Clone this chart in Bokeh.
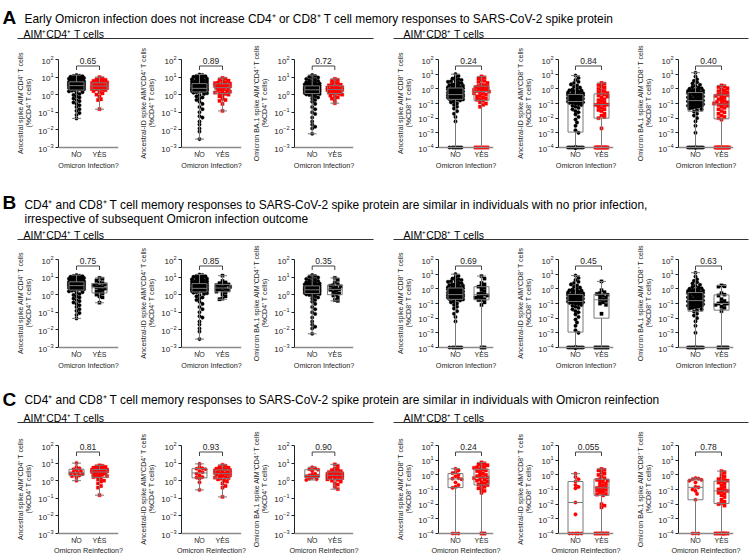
import numpy as np
from bokeh.plotting import figure
from bokeh.models import Range1d, FixedTicker, Span
from bokeh.layouts import column, row
from bokeh.core.properties import value
from bokeh.embed import file_html
from bokeh.resources import INLINE

FONT = "Liberation Sans"
P = "\u207a"  # superscript plus

# ------------------------------------------------------------------ data
# "NO" group of rows A and B (the same donors appear in both rows)
a_cd4_anc_no = [0.045, 0.07, 0.09, 0.12, 0.15, 0.2, 0.25, 0.3, 0.36, 0.43, 0.5, 0.6, 0.7, 0.8, 0.95, 1.1, 1.25, 1.4, 1.55, 1.7, 1.8,
                1.9, 1.97, 2.03, 2.1, 2.15, 2.2, 2.3, 2.35, 2.4, 2.5, 2.55, 2.6, 2.7, 2.75, 2.8, 2.9, 2.95, 3.0, 3.1, 3.2, 3.25,
                3.3, 3.4, 3.5, 3.55, 3.6, 3.7, 3.8, 3.9, 4.0, 4.1, 4.2, 4.3, 4.4, 4.5, 4.6, 4.7, 4.8, 4.9, 5.0, 5.1, 5.3,
                5.4, 5.6, 5.8, 6.0, 6.2, 6.4, 6.7, 7.0, 7.3, 7.6, 8.0, 8.4, 8.8, 9.2, 9.6, 10.0, 10.5, 11.0, 11.5, 12.0, 13.0]
a_cd4_id_no = [0.003, 0.008, 0.012, 0.02, 0.03, 0.05, 0.06, 0.1, 0.15, 0.2, 0.3, 0.4, 0.5, 0.6, 0.7, 0.8, 0.95, 1.1, 1.2, 1.3, 1.4,
               1.5, 1.53, 1.56, 1.6, 1.64, 1.68, 1.72, 1.76, 1.8, 1.85, 1.9, 1.94, 1.98, 2.02, 2.06, 2.1, 2.14, 2.18, 2.22, 2.26, 2.29,
               2.3, 2.4, 2.5, 2.6, 2.7, 2.8, 2.9, 3.0, 3.1, 3.2, 3.3, 3.4, 3.5, 3.6, 3.7, 3.8, 3.9, 4.0, 4.05, 4.1, 4.2,
               4.3, 4.5, 4.7, 4.9, 5.1, 5.4, 5.7, 6.0, 6.3, 6.7, 7.1, 7.5, 8.0, 8.5, 9.0, 9.6, 10.3, 11.0, 12.0, 13.0, 14.0]
a_cd4_ba1_no = [0.006, 0.012, 0.015, 0.02, 0.03, 0.05, 0.08, 0.1, 0.15, 0.2, 0.3, 0.4, 0.5, 0.6, 0.7, 0.8, 0.9, 0.97, 1.05, 1.1, 1.15,
                1.2, 1.23, 1.26, 1.29, 1.32, 1.35, 1.38, 1.42, 1.46, 1.5, 1.54, 1.58, 1.62, 1.66, 1.7, 1.74, 1.77, 1.8, 1.83, 1.86, 1.88,
                1.9, 1.95, 2.0, 2.05, 2.1, 2.15, 2.2, 2.26, 2.32, 2.38, 2.44, 2.5, 2.56, 2.62, 2.68, 2.74, 2.8, 2.87, 2.94, 3.0, 3.1,
                3.2, 3.3, 3.45, 3.6, 3.75, 3.9, 4.1, 4.3, 4.5, 4.8, 5.1, 5.5, 6.0, 6.5, 7.0, 7.8, 8.6, 9.5, 10.5, 11.5, 13.0]
a_cd8_anc_no = [0, 0, 0, 0, 0, 0, 0, 0,
                0.006, 0.012, 0.02, 0.03, 0.045, 0.06, 0.08, 0.1, 0.12, 0.14, 0.16, 0.18, 0.19,
                0.2, 0.21, 0.22, 0.22, 0.24, 0.25, 0.26, 0.27, 0.28, 0.3, 0.3, 0.31, 0.32, 0.33, 0.35, 0.35, 0.36, 0.37, 0.38, 0.39, 0.4, 0.41,
                0.43, 0.45, 0.47, 0.5, 0.52, 0.55, 0.58, 0.6, 0.63, 0.66, 0.7, 0.73, 0.76, 0.8, 0.85, 0.9, 0.95, 1.0, 1.05, 1.1, 1.15,
                1.25, 1.3, 1.4, 1.5, 1.6, 1.7, 1.8, 2.0, 2.2, 2.4, 2.7, 3.0, 3.3, 3.6, 4.0, 4.5, 5.0, 6.0, 7.5, 10.0]
a_cd8_id_no = [0, 0, 0, 0, 0, 0, 0, 0, 0, 0, 0, 0, 0, 0, 0, 0, 0, 0, 0, 0, 0.001,
               0.0015, 0.003, 0.005, 0.008, 0.012, 0.018, 0.025, 0.03, 0.04, 0.05, 0.06, 0.07, 0.08, 0.09, 0.1, 0.11, 0.115, 0.12, 0.125, 0.13, 0.135,
               0.14, 0.15, 0.16, 0.17, 0.18, 0.19, 0.2, 0.21, 0.22, 0.23, 0.24, 0.25, 0.26, 0.27, 0.28, 0.3, 0.32, 0.34, 0.36, 0.38, 0.4,
               0.42, 0.45, 0.48, 0.5, 0.55, 0.6, 0.65, 0.7, 0.75, 0.8, 0.9, 1.0, 1.2, 1.4, 1.7, 2.0, 2.5, 3.0, 4.0, 5.5, 8.0]
a_cd8_ba1_no = [0, 0, 0, 0, 0, 0, 0, 0, 0, 0, 0, 0, 0, 0, 0.001, 0.003, 0.006, 0.01, 0.015, 0.02, 0.028,
                0.035, 0.04, 0.045, 0.05, 0.055, 0.06, 0.065, 0.07, 0.075, 0.08, 0.085, 0.09, 0.095, 0.1, 0.11, 0.12, 0.125, 0.13, 0.14, 0.15, 0.155,
                0.16, 0.17, 0.18, 0.19, 0.2, 0.21, 0.22, 0.24, 0.26, 0.28, 0.3, 0.32, 0.34, 0.36, 0.38, 0.4, 0.42, 0.45, 0.48, 0.51, 0.54,
                0.57, 0.6, 0.63, 0.66, 0.7, 0.75, 0.8, 0.85, 0.9, 1.0, 1.1, 1.2, 1.4, 1.6, 1.9, 2.3, 2.8, 3.5, 4.5, 7.0, 12.6]

# Row A : early Omicron infection ("YES")
a_cd4_anc_yes = [10, 8.5, 7.5, 7, 6.5, 6, 5.5, 5.2, 5, 4.8, 4.6, 4.5, 4.3, 4.1, 4, 3.8, 3.6, 3.5, 3.3, 3.2,
                 3, 2.9, 2.8, 2.7, 2.6, 2.5, 2.4, 2.2, 2.1, 2, 1.9, 1.8, 1.6, 1.4, 1.2, 1.0, 0.8, 0.55, 0.5, 0.15]
a_cd4_id_yes = [9, 8, 7, 6.2, 5.5, 5, 4.8, 4.5, 4.3, 4, 3.8, 3.6, 3.4, 3.2, 3, 2.9, 2.8, 2.7, 2.5, 2.3,
                2.1, 2, 1.8, 1.6, 1.5, 1.4, 1.3, 1.2, 1.1, 1, 0.9, 0.8, 0.6, 0.5, 0.45, 0.3, 0.12]
a_cd4_ba1_yes = [8, 7, 6, 5, 4.5, 4, 3.7, 3.4, 3.2, 3, 2.8, 2.6, 2.5, 2.3, 2.2, 2.1, 2, 1.9, 1.8, 1.7,
                 1.6, 1.5, 1.4, 1.3, 1.25, 1.2, 1.1, 1, 0.9, 0.8, 0.7, 0.6, 0.5, 0.33]
a_cd8_anc_yes = [7, 6, 5, 4, 3.5, 3, 2.5, 2, 1.8, 1.6, 1.45, 1.3, 1.2, 1.1, 1, 0.9, 0.85, 0.8, 0.75, 0.7,
                 0.65, 0.6, 0.5, 0.45, 0.4, 0.35, 0.3, 0.25, 0.22, 0.2, 0.18, 0.15, 0.12, 0.1, 0.08, 0.06,
                 0, 0, 0, 0, 0]
a_cd8_id_yes = [2.5, 2.2, 1.8, 1.5, 1.2, 1.0, 0.8, 0.7, 0.6, 0.5, 0.45, 0.4, 0.35, 0.3, 0.25, 0.2, 0.17, 0.15,
                0.12, 0.1, 0.09, 0.085, 0.08, 0.07, 0.06, 0.05, 0.04, 0.035, 0.03, 0.02, 0.015, 0.012, 0.01, 0.002,
                0, 0, 0, 0, 0, 0, 0, 0, 0]
a_cd8_ba1_yes = [1.7, 1.5, 1.3, 1.1, 0.9, 0.8, 0.7, 0.6, 0.5, 0.45, 0.4, 0.37, 0.33, 0.3, 0.25, 0.2, 0.18, 0.15,
                 0.13, 0.12, 0.11, 0.1, 0.09, 0.08, 0.07, 0.06, 0.05, 0.04, 0.03, 0.025, 0.02, 0.015, 0.012, 0.01, 0.008,
                 0, 0, 0, 0, 0, 0, 0, 0, 0, 0]

# Row B : no prior infection, later infected ("YES")
b_cd4_anc_yes = [9, 8, 6.5, 5, 4.5, 4, 3.8, 3.5, 3, 2.8, 2.5, 2.2, 2, 1.8, 1.5, 1.3, 1.2, 1, 0.8, 0.7, 0.35]
b_cd4_id_yes = [12, 6, 5, 4.5, 4, 3.8, 3.5, 3.2, 3, 2.8, 2.5, 2.3, 2.1, 2, 1.8, 1.6, 1.5, 1.3, 1, 0.8, 0.6, 0.55]
b_cd4_ba1_yes = [9, 7, 5, 4, 3.5, 3.2, 3, 2.5, 2.2, 2, 1.9, 1.6, 1.4, 1.2, 1, 0.9, 0.7, 0.5, 0.45]
b_cd8_anc_yes = [7.4, 5, 2.5, 2, 1.5, 1.4, 1.2, 0.9, 0.7, 0.5, 0.45, 0.4, 0.35, 0.3, 0.28, 0.25, 0.2, 0.18,
                 0.17, 0.12, 0.08, 0, 0]
b_cd8_id_yes = [3.2, 0.8, 0.6, 0.5, 0.45, 0.4, 0.35, 0.3, 0.25, 0.2, 0.18, 0.15, 0.12, 0.1, 0.08, 0.02,
                0, 0, 0, 0, 0]
b_cd8_ba1_yes = [1.7, 1.5, 1.4, 0.5, 0.4, 0.35, 0.2, 0.15, 0.12, 0.1, 0.1, 0.09, 0.08, 0.06, 0.05, 0.03,
                 0, 0, 0, 0]

# Row C : Omicron reinfection
c_cd4_anc_no = [10, 6, 5, 4.5, 4, 3.5, 3, 2.8, 2.6, 2.4, 2.2, 2, 1.8, 1.5, 1]
c_cd4_anc_yes = [7.5, 7, 6.5, 6, 5.5, 5, 4.8, 4.5, 4.3, 4.2, 4, 3.8, 3.7, 3.5, 3.4, 3.3, 3.2, 3.0, 2.8, 2.6,
                 2.4, 2.2, 2.0, 1.9, 1.8, 1.6, 1.4, 1.2, 1.0, 0.9, 0.7, 0.5, 0.4, 0.15]
c_cd4_id_no = [9, 6, 5, 4.8, 4.5, 3.5, 3, 2.5, 2, 1.6, 1.5, 1.3, 0.8, 0.3]
c_cd4_id_yes = [8, 7, 6, 5.5, 5, 4.8, 4.5, 4.2, 4, 3.8, 3.5, 3.2, 3, 2.9, 2.8, 2.6, 2.5, 2.4, 2.2, 2,
                1.9, 1.8, 1.6, 1.5, 1.4, 1.3, 1.2, 1, 0.9, 0.7, 0.5, 0.4, 0.12]
c_cd4_ba1_no = [5.8, 5, 4.5, 4.2, 3.5, 2.5, 2.2, 2, 1.9, 1.8, 1.7, 1.5, 1.3, 1.2, 1.1]
c_cd4_ba1_yes = [8.5, 7, 5, 4.5, 4, 3.5, 3.3, 3.1, 3, 2.8, 2.6, 2.4, 2.3, 2.2, 2.1, 2, 1.9, 1.8, 1.7, 1.6,
                 1.5, 1.4, 1.3, 1.2, 1.1, 1, 0.9, 0.7, 0.6, 0.45, 0.33]
c_cd8_anc_no = [2.6, 2, 1.5, 1.3, 1, 0.8, 0.6, 0.55, 0.5, 0.3, 0.2, 0.15, 0.13, 0, 0, 0]
c_cd8_anc_yes = [7, 6, 5, 4.5, 4, 3.5, 3.2, 3, 2.5, 2.2, 2, 1.8, 1.5, 1.2, 1, 0.9, 0.8, 0.7, 0.65, 0.6,
                 0.5, 0.45, 0.4, 0.35, 0.3, 0.25, 0.22, 0.2, 0.18, 0.15, 0.12, 0.1, 0.08, 0.06, 0, 0]
c_cd8_id_no = [1.2, 0.7, 0.5, 0.35, 0.2, 0.15, 0.12, 0.013, 0.002, 0, 0, 0, 0, 0, 0]
c_cd8_id_yes = [2.5, 2.2, 2, 1.5, 1.2, 1, 0.8, 0.6, 0.5, 0.45, 0.4, 0.35, 0.3, 0.25, 0.2, 0.18, 0.15, 0.13,
                0.12, 0.1, 0.09, 0.08, 0.07, 0.06, 0.05, 0.045, 0.04, 0.01, 0.008, 0.006, 0, 0, 0, 0, 0]
c_cd8_ba1_no = [0.6, 0.55, 0.5, 0.45, 0.4, 0.3, 0.15, 0.14, 0.1, 0.08, 0.05, 0.02, 0, 0, 0]
c_cd8_ba1_yes = [1.8, 1.5, 1, 0.8, 0.6, 0.5, 0.45, 0.4, 0.35, 0.3, 0.25, 0.2, 0.15, 0.12, 0.1, 0.09, 0.08,
                 0.07, 0.06, 0.05, 0.04, 0.03, 0.02, 0.015, 0.012, 0.01, 0.008, 0, 0, 0, 0, 0, 0]

p_values_a = ["0.65", "0.89", "0.72", "0.24", "0.84", "0.40"]
p_values_b = ["0.75", "0.85", "0.35", "0.69", "0.45", "0.63"]
p_values_c = ["0.81", "0.93", "0.90", "0.24", "0.055", "0.78"]

y_titles = ["Ancestral spike AIM" + P + "CD4" + P + " T cells",
            "Ancestral-ID spike AIM" + P + "CD4" + P + " T cells",
            "Omicron BA.1 spike AIM" + P + "CD4" + P + " T cells",
            "Ancestral spike AIM" + P + "CD8" + P + " T cells",
            "Ancestral-ID spike AIM" + P + "CD8" + P + " T cells",
            "Omicron BA.1 spike AIM" + P + "CD8" + P + " T cells"]
y_units = ["(%CD4" + P + " T cells)"] * 3 + ["(%CD8" + P + " T cells)"] * 3
decades = [5, 5, 5, 6, 6, 6]
group_labels = ["NO", "YES"]

RED = "#ff0000"
BLACK = "#000000"
BOXC = "#7a7a7a"
AXC = "#222222"


def swarm_offsets(ypx, step=1.5, dmin=3.0, maxw=8.5):
    """Deterministic beeswarm: horizontal pixel offsets for points at pixel heights ypx."""
    ypx = np.asarray(ypx, float)
    out = np.zeros(len(ypx))
    cands = [0.0]
    k = 1
    while k * step <= maxw:
        cands += [k * step, -k * step]
        k += 1
    order = np.argsort(-ypx, kind="stable")
    px, py = [], []
    for i in order:
        y = ypx[i]
        best, bestd = 0.0, -1.0
        if px:
            ax = np.array(px)
            ay = np.array(py)
            for c in cands:
                d = np.min(np.hypot(ax - c, ay - y))
                if d >= dmin:
                    best = c
                    break
                if d > bestd:
                    bestd, best = d, c
        out[i] = best
        px.append(best)
        py.append(y)
    return out


# per column: (figure width, frame left offset, frame width)
COLS = [(126, 58, 60), (123, 55, 60), (126, 44, 60), (126, 63, 55), (120, 57, 55), (129, 57, 55)]
PT, PB = 4, 3      # px of room above 10^2 and below the floor decade
SPAN = 88          # px from the floor decade to 10^2


def panel(ci, no, yes, pval, xlabel, c_no, c_yes, H, mbt, lab_standoff):
    W, mbl, fw = COLS[ci]
    ndec = decades[ci]
    ppd = SPAN / ndec
    bot = 2 - ndec
    floor = 10.0 ** bot
    fh = SPAN + PT + PB
    mbr = W - mbl - fw
    mbb = H - mbt - fh
    no_px, yes_px = (17.0, 43.0) if ndec == 6 else (18.0, 41.0)
    upx = yes_px - no_px
    p = figure(width=W, height=H, title=None,
               x_range=Range1d(-no_px / upx, (fw - no_px) / upx),
               y_range=Range1d(10 ** (bot - PB / ppd), 10 ** (2 + PT / ppd)),
               y_axis_type="log", output_backend="svg", toolbar_location=None,
               min_border_left=mbl, min_border_right=mbr, min_border_top=mbt, min_border_bottom=mbb)
    p.outline_line_color = None
    p.xgrid.visible = False
    p.ygrid.visible = False

    yax = p.yaxis[0]
    yax.ticker = FixedTicker(ticks=[10.0 ** k for k in range(bot, 3)], minor_ticks=[])
    yax.bounds = (floor, 100.0)
    yax.axis_line_color = AXC
    yax.major_tick_line_color = AXC
    yax.major_tick_out = 3
    yax.major_tick_in = 0
    yax.major_label_standoff = 2
    yax.major_label_text_font = FONT
    yax.major_label_text_font_size = "8px"
    yax.major_label_text_color = "#222222"
    yax.axis_label = y_titles[ci] + "\n" + y_units[ci]
    yax.axis_label_text_font = FONT
    yax.axis_label_text_font_size = "7px"
    yax.axis_label_text_font_style = "normal"
    yax.axis_label_text_color = "#222222"
    yax.axis_label_standoff = 3

    xax = p.xaxis[0]
    xax.ticker = FixedTicker(ticks=[0, 1], minor_ticks=[])
    xax.major_label_overrides = {0: group_labels[0], 1: group_labels[1]}
    xax.axis_line_color = None
    xax.major_tick_line_color = "#666666"
    xax.major_tick_out = 2
    xax.major_tick_in = 0
    xax.major_label_standoff = -2
    xax.major_label_text_font = FONT
    xax.major_label_text_font_size = "7px"
    xax.major_label_text_color = "#222222"
    xax.axis_label = xlabel
    xax.axis_label_text_font = FONT
    xax.axis_label_text_font_size = "7.2px"
    xax.axis_label_text_font_style = "normal"
    xax.axis_label_text_color = "#222222"
    xax.axis_label_standoff = lab_standoff

    # baseline (x axis line) at the floor decade, so zero values sit on it
    p.add_layout(Span(location=floor, dimension="width", line_color="#8a8a8a", line_width=1.5))

    bw = 7.5 / upx
    cw = 4.5 / upx
    for gi, (vals, col, mk, sz) in enumerate([(no, c_no, "circle", 3.6), (yes, c_yes, "square", 3.3)]):
        v = np.asarray(vals, float)
        vp = np.maximum(v, floor)
        off = swarm_offsets(np.log10(vp) * ppd)
        p.scatter(gi + off / upx, vp, marker=mk, size=sz, fill_color=col, line_color=col, line_width=0.3)

    for gi, vals in enumerate([no, yes]):
        v = np.asarray(vals, float)
        q1, md, q3 = np.percentile(v, [25, 50, 75], method="weibull")
        mn, mx = v.min(), v.max()
        mn, q1, md, q3, mx = [max(t, floor) for t in (mn, q1, md, q3, mx)]
        p.quad(left=[gi - bw], right=[gi + bw], bottom=[q1], top=[q3],
               fill_color=None, line_color=BOXC, line_width=1)
        p.segment(x0=[gi - bw, gi, gi, gi - cw, gi - cw], y0=[md, q3, q1, mx, mn],
                  x1=[gi + bw, gi, gi, gi + cw, gi + cw], y1=[md, mx, mn, mx, mn],
                  line_color=BOXC, line_width=1)

    def ypix(d):
        return 10 ** (2 - d / ppd)

    p.line([0, 0, 1, 1], [ypix(10.5), ypix(6.5), ypix(6.5), ypix(10.5)], line_color="#444444", line_width=1)
    p.text([0.5], [ypix(1.2)], text=[pval], text_align="center", text_baseline="middle",
           text_font=value(FONT), text_font_size="8.5px", text_color="#222222")
    return p


def header(h, letter, letter_base, lines, sub_base, rule_y):
    p = figure(width=750, height=h, x_range=Range1d(0, 750), y_range=Range1d(h, 0),
               output_backend="svg", toolbar_location=None, min_border=0,
               x_axis_location=None, y_axis_location=None, title=None)
    p.outline_line_color = None
    p.xgrid.visible = False
    p.ygrid.visible = False
    p.text([2], [letter_base], text=[letter], text_font=value(FONT), text_font_style="bold",
           text_font_size="19px", text_baseline="alphabetic", text_color="#000000")
    for txt, base in lines:
        p.text([24], [base], text=[txt], text_font=value(FONT), text_font_size="11.9px",
               text_baseline="alphabetic", text_color="#000000")
    p.text([23, 403], [sub_base, sub_base],
           text=["AIM" + P + "CD4" + P + " T cells", "AIM" + P + "CD8" + P + " T cells"],
           text_font=value(FONT), text_font_size="10.5px", text_baseline="alphabetic", text_color="#000000")
    p.segment(x0=[17, 393], y0=[rule_y, rule_y], x1=[373, 748], y1=[rule_y, rule_y],
              line_color="#333333", line_width=1)
    return p


head_a = header(41, "A", 17,
                [("Early Omicron infection does not increase CD4" + P + " or CD8" + P +
                  " T cell memory responses to SARS-CoV-2 spike protein", 18)], 33, 38)
head_b = header(65, "B", 26,
                [("CD4" + P + " and CD8" + P + " T cell memory responses to SARS-CoV-2 spike protein are similar "
                  "in individuals with no prior infection,", 28),
                 ("irrespective of subsequent Omicron infection outcome", 42)], 58, 63)
head_c = header(52, "C", 23,
                [("CD4" + P + " and CD8" + P + " T cell memory responses to SARS-CoV-2 spike protein are similar "
                  "in individuals with Omicron reinfection", 23)], 41, 46)

no_sets = [a_cd4_anc_no, a_cd4_id_no, a_cd4_ba1_no, a_cd8_anc_no, a_cd8_id_no, a_cd8_ba1_no]
yes_a = [a_cd4_anc_yes, a_cd4_id_yes, a_cd4_ba1_yes, a_cd8_anc_yes, a_cd8_id_yes, a_cd8_ba1_yes]
yes_b = [b_cd4_anc_yes, b_cd4_id_yes, b_cd4_ba1_yes, b_cd8_anc_yes, b_cd8_id_yes, b_cd8_ba1_yes]
no_c = [c_cd4_anc_no, c_cd4_id_no, c_cd4_ba1_no, c_cd8_anc_no, c_cd8_id_no, c_cd8_ba1_no]
yes_c = [c_cd4_anc_yes, c_cd4_id_yes, c_cd4_ba1_yes, c_cd8_anc_yes, c_cd8_id_yes, c_cd8_ba1_yes]

row_a = row(*[panel(i, no_sets[i], yes_a[i], p_values_a[i], "Omicron Infection?", BLACK, RED, 135, 14, 0)
              for i in range(6)])
row_b = row(*[panel(i, no_sets[i], yes_b[i], p_values_b[i], "Omicron Infection?", BLACK, BLACK, 135, 14, 0)
              for i in range(6)])
row_c = row(*[panel(i, no_c[i], yes_c[i], p_values_c[i], "Omicron Reinfection?", RED, RED, 130, 13, -1)
              for i in range(6)])

layout = column(head_a, row_a, head_b, row_b, head_c, row_c)

with open("out.html", "w") as f:
    f.write(file_html(layout, INLINE))
